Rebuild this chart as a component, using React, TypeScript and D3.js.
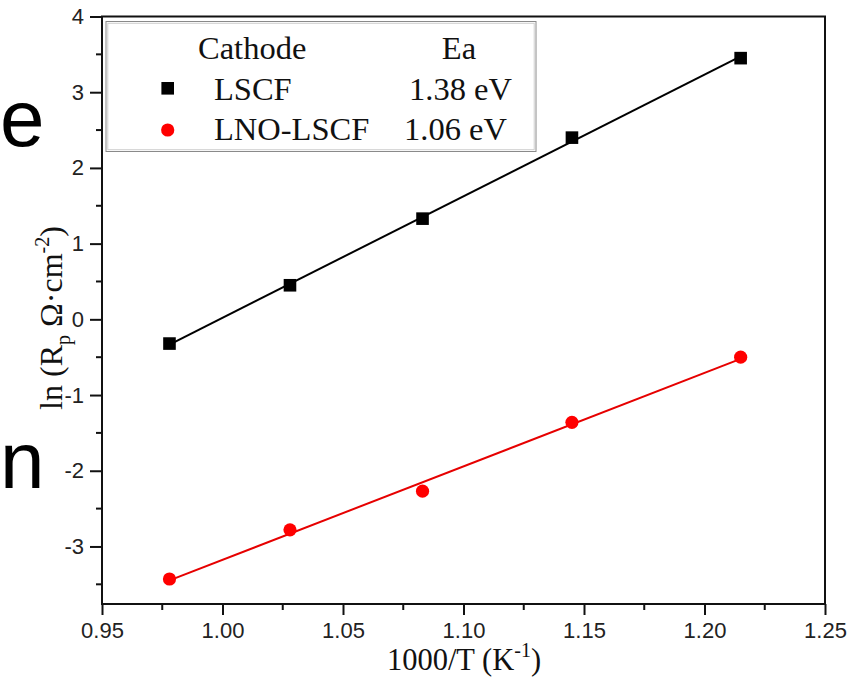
import React, { useEffect, useRef } from "react";
import * as d3 from "d3";

// 1000/T (K^-1) for the five temperatures
const invT = [0.978, 1.028, 1.083, 1.145, 1.215];
const lscf = [-0.32, 0.45, 1.33, 2.4, 3.45];
const lnoLscf = [-3.43, -2.78, -2.27, -1.36, -0.5];

const xTicks = [0.95, 1.0, 1.05, 1.1, 1.15, 1.2, 1.25];
const xMinor = [0.975, 1.025, 1.075, 1.125, 1.175, 1.225];
const yTicks = [-3, -2, -1, 0, 1, 2, 3, 4];
const yMinor = [-3.5, -2.5, -1.5, -0.5, 0.5, 1.5, 2.5, 3.5];

const legendHead = ["Cathode", "Ea"];
const legendNames = ["LSCF", "LNO-LSCF"];
const legendEa = ["1.38 eV", "1.06 eV"];

const serif = "'Liberation Serif', 'Times New Roman', serif";
const sans = "'Liberation Sans', Arial, sans-serif";

// least squares fit, used for the straight Arrhenius lines
const fit = (xs: number[], ys: number[]) => {
  const mx = d3.mean(xs)!, my = d3.mean(ys)!;
  const sxy = d3.sum(xs, (x, i) => (x - mx) * (ys[i] - my));
  const sxx = d3.sum(xs, (x) => (x - mx) ** 2);
  const b = sxy / sxx;
  return (x: number) => my + b * (x - mx);
};

const App = () => {
  const svgRef = useRef<SVGSVGElement>(null);

  useEffect(() => {
    const width = 862, height = 677;
    const left = 102, right = 825, top = 16.5, bottom = 604;

    const svg = d3.select(svgRef.current)
      .attr("width", width)
      .attr("height", height);

    svg.selectAll("*").remove();

    const x = d3.scaleLinear().domain([0.95, 1.25]).range([left, right]);
    const y = d3.scaleLinear().domain([-3.76, 4]).range([bottom, top]);

    // stray slide text at the left edge
    svg.append("text").attr("x", 0).attr("y", 146)
      .attr("font-family", sans).attr("font-size", 80).text("e");
    svg.append("text").attr("x", 0).attr("y", 488)
      .attr("font-family", sans).attr("font-size", 80).text("n");

    // axes
    const xAxis = d3.axisBottom(x)
      .tickValues(xTicks)
      .tickFormat((d) => (+d).toFixed(2))
      .tickSize(11)
      .tickPadding(7);
    const yAxis = d3.axisLeft(y)
      .tickValues(yTicks)
      .tickFormat((d) => String(d))
      .tickSize(12)
      .tickPadding(6);

    const gx = svg.append("g")
      .attr("transform", `translate(0,${bottom})`)
      .call(xAxis);
    gx.append("g").selectAll("line")
      .data(xMinor).enter().append("line")
      .attr("x1", (d) => x(d)).attr("x2", (d) => x(d))
      .attr("y1", 0).attr("y2", 6);

    const gy = svg.append("g")
      .attr("transform", `translate(${left},0)`)
      .call(yAxis);
    gy.append("g").selectAll("line")
      .data(yMinor).enter().append("line")
      .attr("y1", (d) => y(d)).attr("y2", (d) => y(d))
      .attr("x1", 0).attr("x2", -6);

    [gx, gy].forEach((g) => {
      g.select(".domain").remove();
      g.selectAll("line").attr("stroke", "#111").attr("stroke-width", 2);
      g.selectAll("text")
        .attr("font-family", sans)
        .attr("font-size", 22)
        .attr("fill", "#222");
    });

    // frame
    svg.append("rect")
      .attr("x", left).attr("y", top)
      .attr("width", right - left).attr("height", bottom - top)
      .attr("fill", "none").attr("stroke", "#111").attr("stroke-width", 2);

    // fitted lines
    const series = [
      { ys: lscf, color: "#000" },
      { ys: lnoLscf, color: "#e60000" },
    ];
    series.forEach((s) => {
      const f = fit(invT, s.ys);
      const x0 = d3.min(invT)!, x1 = d3.max(invT)!;
      svg.append("line")
        .attr("x1", x(x0)).attr("y1", y(f(x0)))
        .attr("x2", x(x1)).attr("y2", y(f(x1)))
        .attr("stroke", s.color).attr("stroke-width", 2);
    });

    // points
    svg.append("g").selectAll("rect")
      .data(invT).enter().append("rect")
      .attr("x", (d) => x(d) - 6.3)
      .attr("y", (d, i) => y(lscf[i]) - 6.3)
      .attr("width", 12.6).attr("height", 12.6)
      .attr("fill", "#000");

    svg.append("g").selectAll("circle")
      .data(invT).enter().append("circle")
      .attr("cx", (d) => x(d))
      .attr("cy", (d, i) => y(lnoLscf[i]))
      .attr("r", 6.6)
      .attr("fill", "#ff0000");

    // legend
    const lg = svg.append("g");
    lg.append("rect")
      .attr("x", 106).attr("y", 21.5).attr("width", 430).attr("height", 130)
      .attr("fill", "#fff").attr("stroke", "#8a8a8a").attr("stroke-width", 1);
    lg.append("rect")
      .attr("x", 107.8).attr("y", 23.3).attr("width", 426.4).attr("height", 126.4)
      .attr("fill", "none").attr("stroke", "#cfcfcf").attr("stroke-width", 1);

    const lt = (tx: number, ty: number, s: string, anchor = "start") =>
      lg.append("text")
        .attr("x", tx).attr("y", ty)
        .attr("text-anchor", anchor)
        .attr("font-family", serif)
        .attr("font-size", 32.5)
        .attr("fill", "#111")
        .text(s);

    lt(198, 59, legendHead[0]);
    lt(459, 59, legendHead[1], "middle");
    lt(214, 99.5, legendNames[0]);
    lt(512, 99.5, legendEa[0], "end");
    lt(214, 140, legendNames[1]);
    lt(507, 140, legendEa[1], "end");

    lg.append("rect")
      .attr("x", 167.7 - 6.3).attr("y", 88.3 - 6.3)
      .attr("width", 12.6).attr("height", 12.6).attr("fill", "#000");
    lg.append("circle")
      .attr("cx", 167.7).attr("cy", 130).attr("r", 6.6).attr("fill", "#ff0000");

    // axis titles
    const xt = svg.append("text")
      .attr("x", 464).attr("y", 670)
      .attr("text-anchor", "middle")
      .attr("font-family", serif).attr("font-size", 30.5).attr("fill", "#111");
    xt.append("tspan").text("1000/T (K");
    xt.append("tspan").attr("dy", -13).attr("font-size", 20).text("-1");
    xt.append("tspan").attr("dy", 13).text(")");

    const yt = svg.append("text")
      .attr("transform", "translate(62,318) rotate(-90)")
      .attr("text-anchor", "middle")
      .attr("font-family", serif).attr("font-size", 32).attr("fill", "#111");
    yt.append("tspan").text("ln (R");
    yt.append("tspan").attr("dy", 8).attr("font-size", 20).text("p");
    yt.append("tspan").attr("dy", -8).text(" Ω·cm");
    yt.append("tspan").attr("dy", -13).attr("font-size", 20).text("-2");
    yt.append("tspan").attr("dy", 13).text(")");
  }, []);

  return (
    <div style={{ position: "absolute", left: 0, top: 0 }}>
      <svg ref={svgRef} style={{ display: "block" }}></svg>
    </div>
  );
};

export default App;
